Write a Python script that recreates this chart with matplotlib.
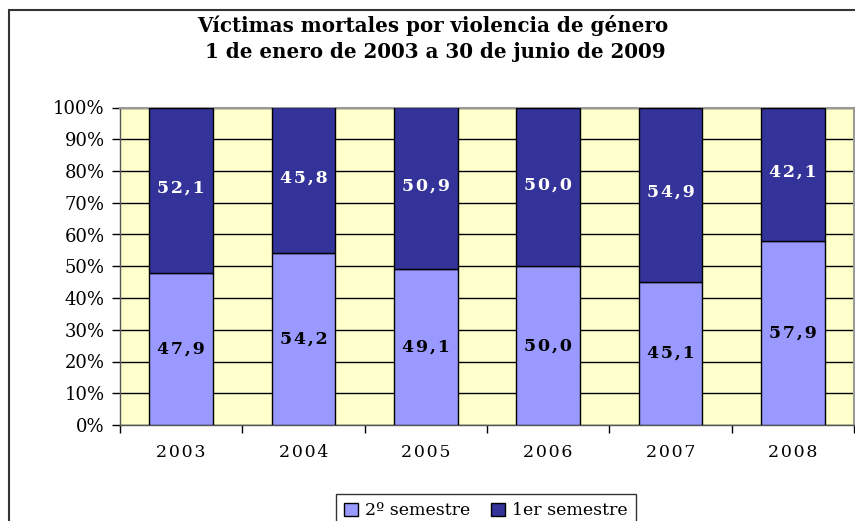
import matplotlib.pyplot as plt
from matplotlib.patches import Rectangle
from matplotlib.ticker import FuncFormatter, MultipleLocator

years = ['2003', '2004', '2005', '2006', '2007', '2008']
segundo = [47.9, 54.2, 49.1, 50.0, 45.1, 57.9]   # 2º semestre
primero = [52.1, 45.8, 50.9, 50.0, 54.9, 42.1]   # 1er semestre

plt.rcParams['font.family'] = ['DejaVu Serif']

fig = plt.figure(figsize=(8.55, 5.21), dpi=100)
W, H = 855, 521
ax = fig.add_axes([120 / W, 1 - 425 / H, (854 - 120) / W, (425 - 107.5) / H])
ax.set_facecolor('#FFFFCC')

# outer chart frame (cropped on right / bottom)
fig.patches.append(Rectangle((9 / W, -0.1), 1.2, 1 - 10 / H + 0.1,
                             transform=fig.transFigure, fill=False,
                             edgecolor='#333333', linewidth=1.5))


def spaced(s):
    # the original font is set with wide letter spacing
    return '\u200a'.join(s)


x = range(len(years))
b1 = ax.bar(x, segundo, width=0.52, color='#9999FF', edgecolor='black',
            linewidth=1, label='2º semestre', zorder=3)
b2 = ax.bar(x, primero, width=0.52, bottom=segundo, color='#333399',
            edgecolor='black', linewidth=1, label='1er semestre', zorder=3)

for i in x:
    ax.text(i, segundo[i] / 2, spaced(f'{segundo[i]:.1f}'.replace('.', ',')),
            ha='center', va='center', fontsize=12.5, fontweight='bold',
            color='black', zorder=4)
    ax.text(i, segundo[i] + primero[i] / 2 + 0.7,
            spaced(f'{primero[i]:.1f}'.replace('.', ',')),
            ha='center', va='center', fontsize=12.5, fontweight='bold',
            color='white', zorder=4)

ax.set_xlim(-0.5, len(years) - 0.5)
ax.set_ylim(0, 100)
ax.yaxis.set_major_locator(MultipleLocator(10))
ax.yaxis.set_major_formatter(FuncFormatter(lambda v, p: f'{v:.0f}%'))
ax.yaxis.grid(True, color='black', linewidth=1, zorder=1)
ax.set_axisbelow(True)

ax.set_xticks([i + 0.5 for i in range(-1, len(years))], minor=False)
ax.set_xticklabels([])
ax.set_xticks(list(x), minor=True)
ax.set_xticklabels([spaced(y) for y in years], minor=True)
ax.tick_params(axis='x', which='major', direction='out', length=6, width=1)
ax.tick_params(axis='x', which='minor', length=0, pad=14, labelsize=12.5)
ax.tick_params(axis='y', direction='out', length=6, width=1, labelsize=13, pad=5)

for s in ['top', 'right']:
    ax.spines[s].set_color('#999999')
    ax.spines[s].set_linewidth(1.5)
for s in ['left', 'bottom']:
    ax.spines[s].set_color('#555555')
    ax.spines[s].set_linewidth(1)

fig.text(433 / W, 1 - 26 / H, 'Víctimas mortales por violencia de género',
         ha='center', va='center', fontsize=14.3, fontweight='bold')
fig.text(435 / W, 1 - 52 / H, '1 de enero de 2003 a 30 de junio de 2009',
         ha='center', va='center', fontsize=14.3, fontweight='bold')

leg = fig.legend(handles=[b1, b2], loc='upper center',
                 bbox_to_anchor=(486 / W, 1 - 485 / H), ncol=2, frameon=True,
                 fancybox=False, edgecolor='black', fontsize=12.5,
                 handlelength=0.8, handleheight=0.8, handletextpad=0.4,
                 columnspacing=1.2, borderpad=0.5)
leg.get_frame().set_linewidth(1)

fig.savefig('out.png', dpi=100)
